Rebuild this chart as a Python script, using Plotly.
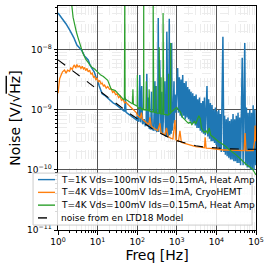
import plotly.graph_objects as go

# ---------------- data (values in units of 1e-9 V/sqrt(Hz)) ----------------
blue_f = [1, 1.3, 1.6, 2.0, 2.5, 3.0, 3.5, 4.0, 4.6, 5.2, 5.8, 6.5, 7.3, 8.2, 9.0, 10, 11, 12,
          13, 15, 17, 19, 21, 23, 25, 28, 31, 34, 37, 40, 44, 48, 50, 52, 56, 60, 65, 70, 75, 80,
          85, 90, 96,
          100, 104, 110, 116, 122, 130, 136, 140, 150, 160, 168, 175, 182, 189, 200, 220, 230,
          240, 260, 280, 288, 295, 310, 330, 340, 350, 370, 385, 400, 420, 440, 480, 500, 520,
          545, 560, 575, 600, 630, 645, 660, 700, 720, 740, 760, 780, 820, 850, 870, 900, 950,
          1000, 1050, 1100, 1160, 1220, 1280, 1340, 1410, 1480, 1550, 1630, 1710, 1800, 1890, 1980,
          2080, 2180, 2290, 2410, 2530, 2650, 2790, 2930, 3070, 3230, 3390, 3560, 3740, 3920, 4120,
          4320, 4540, 4760, 5000, 5250, 5510, 5790, 6080, 6380, 6700, 7040, 7390, 7760, 8150, 8550,
          8980, 9430, 9900, 10400, 10900, 11500, 12000, 12600, 13300, 13900, 14600, 15400, 16100,
          16900, 17800, 18700, 19600, 20600, 21600, 22700, 23800, 25000, 26300, 27600, 29000,
          30400, 31900, 33500, 35200, 37000, 38800, 40800, 42800, 44900, 47200, 49500, 52000,
          54600, 57400, 60200, 63200, 66400, 69700, 73200, 76900, 80700, 84700, 89000, 93400, 98100]
blue_v = [41, 33, 27, 21, 16, 12, 10.5, 9.8, 8.0, 7.4, 6.8, 5.5, 4.8, 4.3, 3.6, 3.1, 2.5, 2.1,
          1.85, 1.75, 1.62, 1.50, 1.45, 1.38, 1.30, 1.25, 1.18, 1.12, 1.08, 1.03, 0.98, 0.94, 1.6,
          0.92, 0.88, 0.85, 0.82, 0.78, 0.76, 0.74, 0.71, 0.70, 0.68,
          0.80, 0.66, 0.64, 3.8, 0.62, 2.5, 0.60, 0.58, 0.70, 0.55, 0.56, 4.0, 0.53, 1.6, 0.50,
          0.48, 2.0, 0.47, 0.46, 3.0, 0.45, 2.5, 0.44, 0.45, 34, 0.43, 6.8, 0.42, 0.40, 2.0,
          0.39, 1.5, 3.0, 0.37, 0.36, 20, 0.36, 0.36, 0.4, 33, 0.38, 4.0, 0.4, 13, 0.45, 0.5,
          1.2, 3.0, 0.6, 1.8, 0.9,
          2.0, 5.0, 0.9, 3.5, 0.8, 3.2, 0.75, 3.8, 0.8, 2.8, 0.7, 3.0, 0.75, 2.4, 0.7,
          2.2, 0.65, 2.0, 0.6, 1.9, 0.6, 1.7, 0.55, 1.8, 0.5, 1.5, 0.5, 1.6, 0.45, 1.3,
          0.42, 1.4, 0.4, 1.6, 0.38, 1.4, 2.5, 0.36, 1.5, 0.33, 1.3, 0.3, 1.2, 0.3, 1.0,
          0.28, 1.1, 0.26, 0.95, 0.24, 1.0, 0.22, 0.85, 0.2, 0.9, 16.5, 0.2, 0.8,
          0.18, 0.7, 0.17, 0.75, 0.16, 0.65, 0.15, 0.7, 0.15, 0.85, 0.14, 0.7,
          0.14, 0.8, 0.13, 0.9, 0.13, 0.75, 0.12, 1.1, 7.4, 0.12, 1.2, 13,
          0.12, 1.1, 0.11, 0.9, 0.11, 1.0, 0.1, 0.9, 0.1, 1.2, 0.1, 1.0, 0.12]

orange_f = [1.0, 1.05, 1.1, 1.2, 1.3, 1.46, 1.6, 1.75, 1.96, 2.1, 2.3, 2.45, 2.6, 2.8, 3.0, 3.2,
            3.5, 3.8, 4.1, 4.4, 4.7, 5.0, 5.4, 5.8, 6.3, 6.8, 7.3, 7.9, 8.4, 9.0, 9.7, 10.4, 11.3,
            12.2, 13, 14, 15, 16.5, 18, 20, 22, 24, 26, 28.5, 31, 34, 37, 40, 44, 48, 52, 57, 62,
            67, 73, 80, 87, 95, 100, 110, 120, 128, 135, 150, 165, 180, 195, 210, 225, 250, 275,
            300, 330, 375, 400, 450, 500, 550, 600, 700, 800, 900, 950, 1000, 1100, 1200, 1300,
            1500, 1800, 2000, 2500, 3000, 4000, 5000, 5200, 5500, 7000, 10000, 15000, 20000,
            30000, 40000, 50000, 53000, 56000, 70000, 85000, 92000, 95000, 98000, 100000]
orange_v = [1.9, 2.5, 3.3, 3.8, 4.3, 4.6, 4.1, 4.6, 4.4, 5.0, 4.7, 5.3, 5.6, 5.0, 5.7, 5.2,
            5.4, 4.9, 5.3, 4.8, 5.1, 4.5, 4.9, 4.3, 4.6, 3.9, 4.1, 3.5, 3.6, 3.2, 3.4, 2.9, 3.1,
            2.7, 2.8, 2.5, 2.6, 2.3, 2.45, 2.2, 2.25, 1.95, 2.05, 1.8, 1.85, 1.6, 1.7, 1.45, 1.5,
            1.3, 1.35, 1.25, 1.18, 1.15, 1.05, 1.0, 0.95, 0.9, 0.82, 0.78, 0.74, 0.9, 0.7, 0.66,
            0.62, 0.6, 0.57, 0.75, 0.54, 0.51, 0.49, 0.47, 0.45, 0.6, 0.42, 0.4, 0.38, 0.5, 0.36,
            0.34, 0.33, 0.68, 0.32, 0.31, 0.30, 0.45, 0.29, 0.28, 0.27, 0.26, 0.25, 0.245, 0.24,
            0.235, 0.35, 0.23, 0.228, 0.22, 0.215, 0.215, 0.212, 0.21, 0.21, 0.41, 0.21, 0.21,
            0.21, 0.3, 0.55, 0.3, 0.45]

green_f = [1.0, 1.5, 2.0, 2.2, 2.4, 2.6, 2.9, 3.2, 3.6, 4.2, 5.0, 6.0, 7.0, 8.4, 10, 12, 14, 16,
           18, 20, 22, 25, 28, 32, 36, 40, 45, 47.5, 48.5, 49.5, 51, 53, 58, 64, 70, 76, 78, 80, 85,
           90, 97,
           100, 101, 102, 110, 120, 133, 140, 145, 146, 147, 152, 165, 168, 170, 172, 180, 197,
           200, 203, 210, 230, 245, 252, 253, 254, 262, 290, 298, 300, 302, 320, 350, 357, 360,
           363, 375, 398, 400, 402, 420, 445, 450, 455, 470, 490, 540, 600, 618, 620, 622, 650,
           695, 700, 705, 760, 820, 900,
           1000, 1100, 1200, 1300, 1400,
           1550, 1700, 1850, 2000, 2200, 2400, 2600, 2800, 3000, 3300, 3600, 3900, 4200, 4600,
           5000, 5500, 6000, 6600, 7200, 8000, 8800, 9700, 10700, 11800, 13000, 14300, 15700,
           17300, 19000, 21000, 23000, 25500, 28000, 31000, 34000, 37500, 41000, 45000, 50000,
           55000, 60000, 66000, 73000, 80000, 88000, 95000, 100000]
green_v = [300, 150, 80, 60, 35, 26, 20, 16, 12, 9.0, 7.0, 6.0, 5.2, 4.8, 4.2, 3.8, 3.6, 3.3,
           3.1, 2.6, 2.2, 2.15, 2.1, 1.9, 1.75, 1.65, 1.5, 1.52, 80, 1.5, 1.5, 1.47, 1.4, 1.35,
           1.3, 1.27, 2.2, 1.25, 1.22, 1.2, 1.15,
           1.15, 3.8, 1.12, 1.05, 1.1, 1.0, 1.05, 1.02, 80, 1.0, 1.0, 0.98, 0.99, 3.0, 0.99, 1.0,
           0.97, 2.2, 0.95, 0.95, 0.93, 0.95, 0.93, 80, 0.92, 0.92, 0.9, 0.9, 2.5, 0.9, 0.88, 0.9,
           0.88, 11, 0.87, 0.87, 0.86, 3.5, 0.86, 0.85, 0.86, 41, 0.85, 0.84, 0.84, 0.82, 0.82,
           0.83, 4.0, 0.83, 0.85, 0.88, 13, 0.9, 0.95, 1.0, 1.05,
           1.1, 1.0, 0.95, 0.85, 0.75, 0.7, 0.65, 0.62, 0.6, 0.63, 0.57,
           0.6, 0.65, 0.58, 0.7, 0.8, 0.72, 0.5, 0.45, 0.42, 0.45, 0.4, 0.5, 0.38, 0.36, 0.34,
           0.32, 0.31, 0.29, 0.28, 0.27, 0.26, 0.245, 0.23, 0.22, 0.21, 0.2, 0.19, 0.18, 0.17,
           0.16, 0.15, 0.14, 0.135, 0.125, 0.12, 0.115, 0.11, 0.105, 0.095, 0.088, 0.083]

model_f = [1, 2, 3, 5, 7, 10, 20, 30, 50, 70, 100, 200, 300, 500, 700, 1000, 2000, 3000, 5000,
           10000, 20000, 50000, 100000]
model_v = [6.80, 4.81, 3.93, 3.05, 2.58, 2.16, 1.53, 1.26, 0.99, 0.84, 0.715, 0.52, 0.44, 0.375,
           0.335, 0.308, 0.267, 0.253, 0.240, 0.230, 0.225, 0.222, 0.221]

series_names = ["T=1K Vds=100mV Ids=0.15mA, Heat Amp",
                "T=4K Vds=100mV Ids=1mA, CryoHEMT",
                "T=4K Vds=100mV Ids=0.15mA, Heat Amp",
                "noise from en LTD18 Model"]

x_tickvals = [1, 10, 100, 1000, 10000, 100000]
x_ticktext = ["10<sup>0</sup>", "10<sup>1</sup>", "10<sup>2</sup>", "10<sup>3</sup>",
              "10<sup>4</sup>", "10<sup>5</sup>"]
y_tickvals = [1e-11, 1e-10, 1e-9, 1e-8]
y_ticktext = ["10<sup>\u221211</sup>", "10<sup>\u221210</sup>", "10<sup>\u22129</sup>",
              "10<sup>\u22128</sup>"]

scale = 1e-9
colors = ["#1f77b4", "#ff7f0e", "#2ca02c", "black"]
dashes = ["solid", "solid", "solid", "dash"]

fig = go.Figure()
for f, v, name, c, w in [(blue_f, blue_v, series_names[0], colors[0], 1.5),
                         (orange_f, orange_v, series_names[1], colors[1], 1.3),
                         (green_f, green_v, series_names[2], colors[2], 1.2)]:
    fig.add_trace(go.Scatter(x=f, y=[a * scale for a in v], mode="lines", name=name,
                             line=dict(color=c, width=w)))
fig.add_trace(go.Scatter(x=model_f, y=[a * scale for a in model_v], mode="lines",
                         name=series_names[3], line=dict(color="black", width=1.1, dash="dash")))

minor_x = [m * 10 ** k for k in range(0, 5) for m in range(2, 10)]
minor_y = [m * 10.0 ** k for k in range(-11, -7) for m in range(2, 10)]

font = "DejaVu Sans"

# manual legend (box, line samples, labels) in paper coordinates
shapes = [dict(type="rect", xref="paper", yref="paper", x0=-0.126, x1=0.98, y0=0.022, y1=0.254,
               fillcolor="rgba(255,255,255,0.85)", line=dict(color="#cccccc", width=1),
               layer="above")]
annotations = []
row_y = [0.225, 0.168, 0.111, 0.054]
for i, name in enumerate(series_names):
    shapes.append(dict(type="line", xref="paper", yref="paper", x0=-0.101, x1=-0.015,
                       y0=row_y[i], y1=row_y[i], layer="above",
                       line=dict(color=colors[i], width=1.4, dash=dashes[i])))
    annotations.append(dict(text=name, xref="paper", yref="paper", x=0.005, y=row_y[i],
                            xanchor="left", yanchor="middle", showarrow=False,
                            font=dict(size=9, family=font, color="black")))

fig.update_layout(
    width=270, height=270,
    margin=dict(l=58, r=14, t=6, b=40, autoexpand=False),
    paper_bgcolor="white", plot_bgcolor="white",
    font=dict(family=font, color="black", size=9),
    showlegend=False,
    shapes=shapes, annotations=annotations,
)
fig.update_xaxes(type="log", range=[0, 5], tickmode="array", tickvals=x_tickvals,
                 ticktext=x_ticktext, ticks="outside", ticklen=3.5, tickcolor="black",
                 showline=True, linecolor="black", linewidth=1, mirror=True, automargin=False,
                 showgrid=True, gridcolor="#555555", gridwidth=1,
                 minor=dict(tickvals=minor_x, ticks="outside", ticklen=2, tickcolor="black",
                            showgrid=True, gridcolor="#ececec", gridwidth=0.6, griddash="dash"),
                 tickfont=dict(size=9), title=dict(text="Freq [Hz]", font=dict(size=14),
                                                   standoff=3))
fig.update_yaxes(type="log", range=[-11, -7.27], tickmode="array", tickvals=y_tickvals,
                 ticktext=y_ticktext, ticks="outside", ticklen=3.5, tickcolor="black",
                 showline=True, linecolor="black", linewidth=1, mirror=True, automargin=False,
                 showgrid=True, gridcolor="#555555", gridwidth=1,
                 minor=dict(tickvals=minor_y, ticks="outside", ticklen=2, tickcolor="black",
                            showgrid=True, gridcolor="#ececec", gridwidth=0.6, griddash="dash"),
                 tickfont=dict(size=9),
                 title=dict(text="Noise [V/\u221a<span style='text-decoration:overline'>Hz</span>]",
                            font=dict(size=14), standoff=3))

fig.write_html("out.html", config={"displayModeBar": False},
               post_script="document.body.style.margin='0px';")
